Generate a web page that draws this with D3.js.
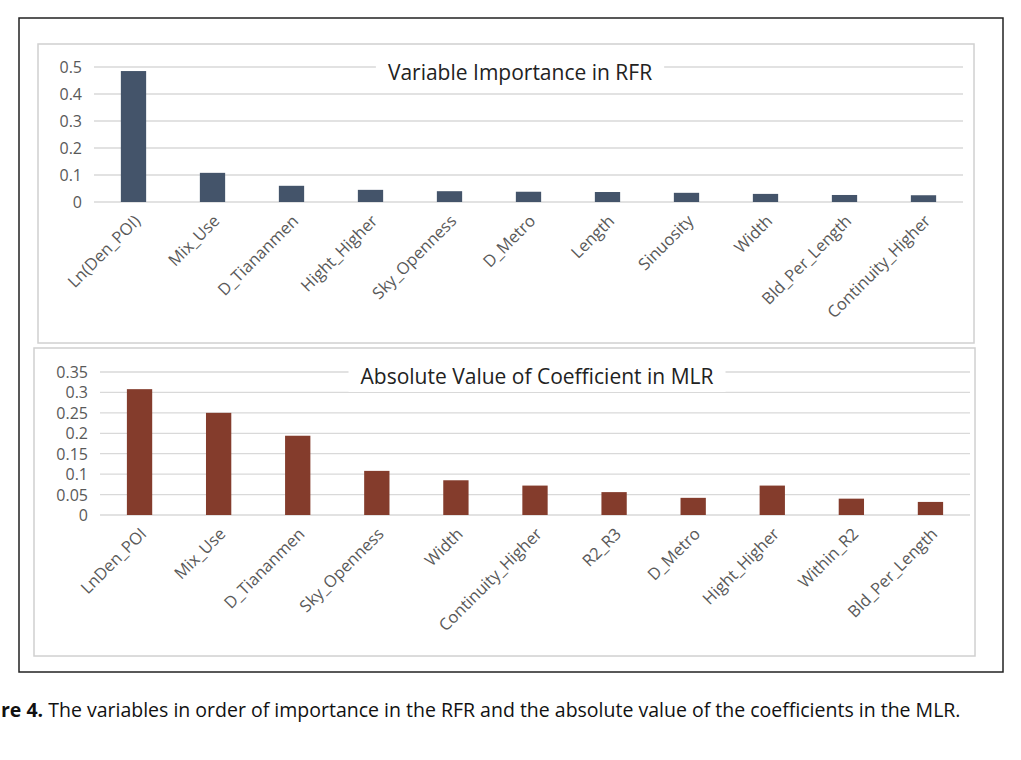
<!DOCTYPE html>
<html><head><meta charset="utf-8">
<script src="https://cdn.jsdelivr.net/npm/d3@7"></script>
<style>body{margin:0;background:#fff;}text{font-family:"Open Sans","Liberation Sans",sans-serif;}</style>
</head><body><svg id="c" width="1021" height="760"></svg>
<script>
const rfrCats=["Ln(Den_POI)","Mix_Use","D_Tiananmen","Hight_Higher","Sky_Openness","D_Metro","Length","Sinuosity","Width","Bld_Per_Length","Continuity_Higher"];
const rfrVals=[0.485,0.108,0.06,0.045,0.04,0.038,0.037,0.034,0.03,0.026,0.025];
const rfrTicks=[0,0.1,0.2,0.3,0.4,0.5];
const mlrCats=["LnDen_POI","Mix_Use","D_Tiananmen","Sky_Openness","Width","Continuity_Higher","R2_R3","D_Metro","Hight_Higher","Within_R2","Bld_Per_Length"];
const mlrVals=[0.308,0.25,0.194,0.108,0.085,0.072,0.056,0.042,0.072,0.04,0.032];
const mlrTicks=[0,0.05,0.1,0.15,0.2,0.25,0.3,0.35];

const svg=d3.select("#c");
svg.append("rect").attr("x",19).attr("y",18).attr("width",984).attr("height",654).attr("fill","#fff").attr("stroke","#222").attr("stroke-width",1.5);

function panel(o){
  svg.append("rect").attr("x",o.bx).attr("y",o.by).attr("width",o.bw).attr("height",o.bh).attr("fill","#fff").attr("stroke","#d0d0d0").attr("stroke-width",1.5);
  const x=d3.scaleBand().domain(o.cats).range([o.x0,o.x1]).paddingInner(0.68).paddingOuter(0.34);
  const y=d3.scaleLinear().domain([0,o.max]).range([o.y0,o.y1]);
  const g=svg.append("g");
  g.selectAll("line.g").data(o.ticks).join("line").attr("x1",o.x0).attr("x2",o.x1).attr("y1",d=>y(d)).attr("y2",d=>y(d)).attr("stroke","#d9d9d9").attr("stroke-width",1.3);
  g.selectAll("text.t").data(o.ticks).join("text").attr("x",o.x0-12).attr("y",d=>y(d)+6).attr("text-anchor","end").attr("font-size",16).attr("fill","#595959").text(d=>d3.format("")(d));
  g.selectAll("rect.b").data(o.vals).join("rect").attr("x",(d,i)=>x(o.cats[i])).attr("width",x.bandwidth()).attr("y",d=>y(d)).attr("height",d=>y(0)-y(d)).attr("fill",o.color);
  g.selectAll("text.c").data(o.cats).join("text").attr("transform",d=>`translate(${x(d)+x.bandwidth()/2+8},${o.y0+20}) rotate(-45)`).attr("text-anchor","end").attr("font-size",16.5).attr("fill","#595959").text(d=>d);
  const t=g.append("text").attr("x",o.tx).attr("y",o.ty).attr("text-anchor","middle").attr("font-size",21).attr("fill","#222").text(o.title);
  const bb=t.node().getBBox();
  g.insert("rect","text:last-child").attr("x",bb.x-12).attr("y",bb.y-2).attr("width",bb.width+24).attr("height",bb.height+4).attr("fill","#fff");
}
panel({bx:38,by:44,bw:936,bh:299,x0:94,x1:963,y0:202,y1:67,max:0.5,ticks:rfrTicks,cats:rfrCats,vals:rfrVals,color:"#44546a",title:"Variable Importance in RFR",tx:520,ty:80});
panel({bx:34,by:348,bw:941,bh:308,x0:100,x1:970,y0:515,y1:372,max:0.35,ticks:mlrTicks,cats:mlrCats,vals:mlrVals,color:"#843c2c",title:"Absolute Value of Coefficient in MLR",tx:537,ty:384});

const cap=svg.append("text").attr("x",1).attr("y",717).attr("font-size",19.5).attr("fill","#111");
cap.append("tspan").attr("font-weight","bold").text("re 4.");
cap.append("tspan").text("  The variables in order of importance in the RFR and the absolute value of the coefficients in the MLR.");
</script></body></html>
